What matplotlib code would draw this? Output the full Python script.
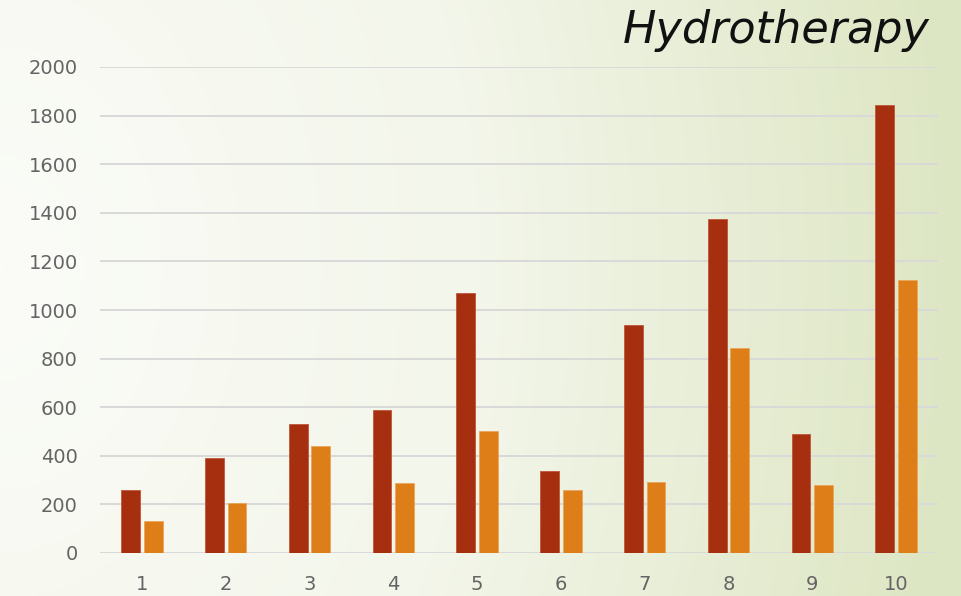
import numpy as np
import matplotlib
matplotlib.use("Agg")
import matplotlib.pyplot as plt
from matplotlib.colors import LinearSegmentedColormap

# session numbers and the two measured series
sessions = [1, 2, 3, 4, 5, 6, 7, 8, 9, 10]
series_a = [258, 390, 530, 590, 1070, 337, 937, 1374, 490, 1842]
series_b = [132, 204, 442, 290, 502, 259, 292, 845, 279, 1122]
y_ticks = [0, 200, 400, 600, 800, 1000, 1200, 1400, 1600, 1800, 2000]

plt.rcParams['font.family'] = ['DejaVu Sans']

fig = plt.figure(figsize=(9.61, 5.96), dpi=100)

# soft white-to-green backdrop
bg = fig.add_axes([0, 0, 1, 1], zorder=-10)
bg.axis('off')
cmap = LinearSegmentedColormap.from_list('bg', ['#fbfcf8', '#f3f6ea', '#dde6c3'])
xx, yy = np.meshgrid(np.linspace(0, 1, 400), np.linspace(0, 1, 250))
field = np.clip(np.sqrt((xx * 1.0) ** 2 + ((yy - 0.55) * 0.45) ** 2), 0, 1)
bg.imshow(field, cmap=cmap, aspect='auto', extent=[0, 1, 0, 1], origin='lower')
bg.set_xlim(0, 1)
bg.set_ylim(0, 1)

ax = fig.add_axes([100 / 961, 43 / 596, 838 / 961, 486 / 596])
ax.patch.set_alpha(0)

x = np.array(sessions)
w = 0.225
ax.bar(x - 0.135, series_a, width=w, color='#a52f0f', edgecolor='#c0553a', linewidth=0.6, zorder=3)
ax.bar(x + 0.135, series_b, width=w, color='#de7e19', edgecolor='#eba55a', linewidth=0.6, zorder=3)

ax.set_xlim(0.5, 10.5)
ax.set_ylim(0, 2000)
ax.set_yticks(y_ticks)
ax.set_xticks(sessions)
ax.grid(axis='y', color='#d9d9d9', linewidth=1.4, zorder=0)
ax.set_axisbelow(True)
for s in ax.spines.values():
    s.set_visible(False)
ax.tick_params(length=0, labelsize=14, labelcolor='#646464')
ax.tick_params(axis='y', pad=16)
ax.tick_params(axis='x', pad=16)

fig.text(930 / 961, 1 - 31 / 596, 'Hydrotherapy', ha='right', va='center',
         fontsize=32, style='italic', color='#111111')

fig.savefig('out.png', dpi=100)
